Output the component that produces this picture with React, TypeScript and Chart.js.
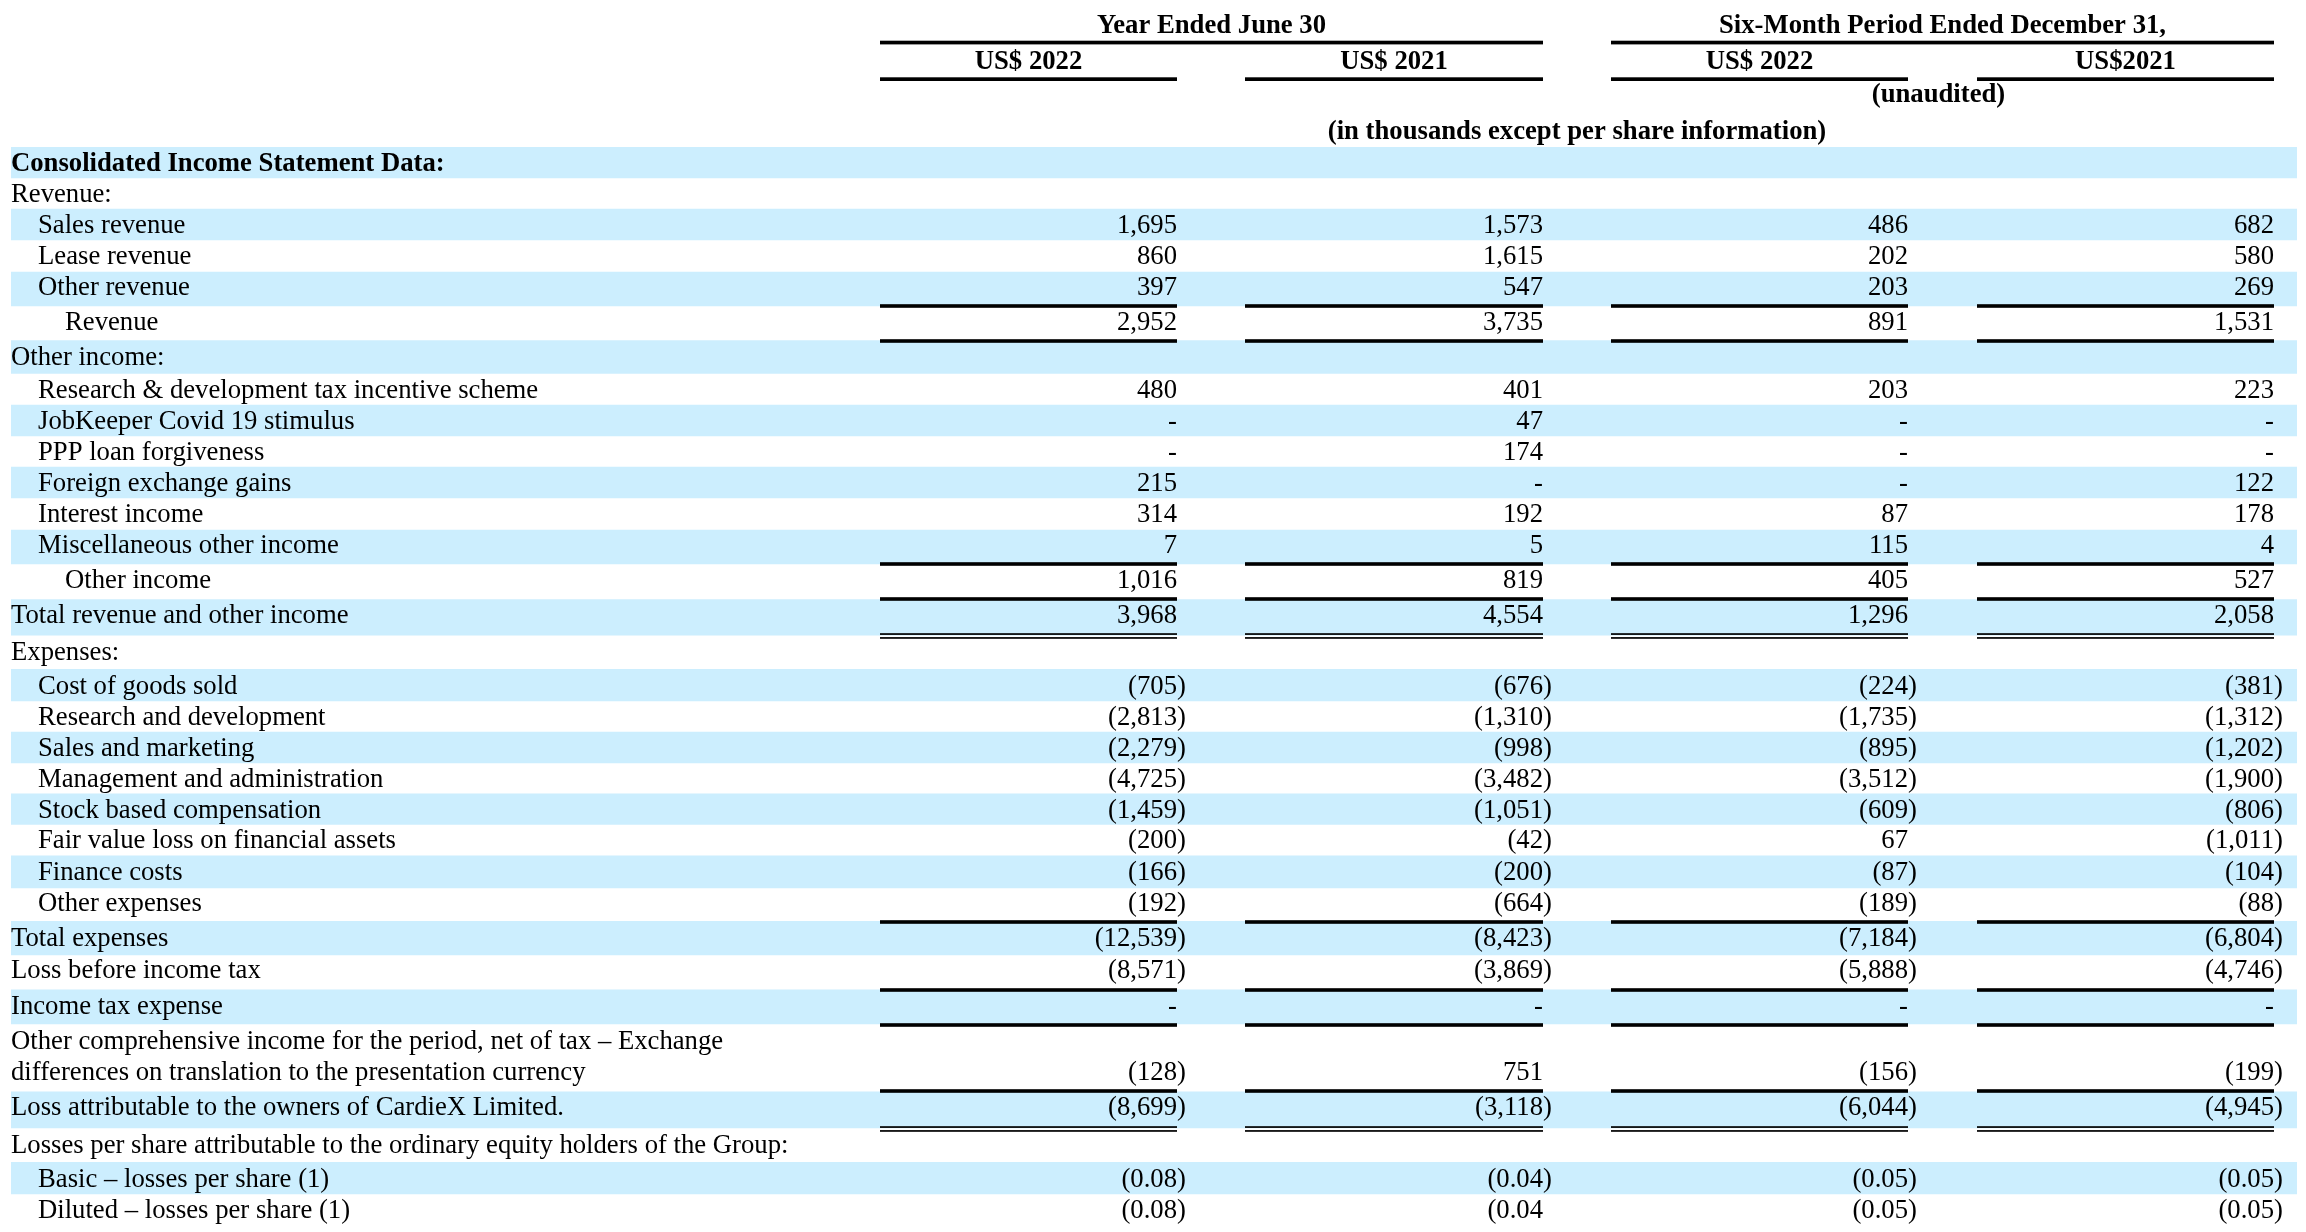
import { useEffect, useRef } from 'react';
import { Chart, registerables } from 'chart.js';

Chart.register(...registerables);

// ---------- data ----------
const GROUP_HEADERS = ['Year Ended June 30', 'Six-Month Period Ended December 31,'];
const COLUMN_HEADERS = ['US$ 2022', 'US$ 2021', 'US$ 2022', 'US$2021'];
const UNAUDITED_NOTE = '(unaudited)';
const UNITS_NOTE = '(in thousands except per share information)';

const ROW_LABELS = [
  'Consolidated Income Statement Data:',
  'Revenue:',
  'Sales revenue',
  'Lease revenue',
  'Other revenue',
  'Revenue',
  'Other income:',
  'Research & development tax incentive scheme',
  'JobKeeper Covid 19 stimulus',
  'PPP loan forgiveness',
  'Foreign exchange gains',
  'Interest income',
  'Miscellaneous other income',
  'Other income',
  'Total revenue and other income',
  'Expenses:',
  'Cost of goods sold',
  'Research and development',
  'Sales and marketing',
  'Management and administration',
  'Stock based compensation',
  'Fair value loss on financial assets',
  'Finance costs',
  'Other expenses',
  'Total expenses',
  'Loss before income tax',
  'Income tax expense',
  'Other comprehensive income for the period, net of tax – Exchange',
  'differences on translation to the presentation currency',
  'Loss attributable to the owners of CardieX Limited.',
  'Losses per share attributable to the ordinary equity holders of the Group:',
  'Basic – losses per share (1)',
  'Diluted – losses per share (1)',
];

// rows that carry figures
const ROW_HAS_VALUES = [false, false, true, true, true, true, false, true, true, true, true, true, true, true, true, false, true, true, true, true, true, true, true, true, true, true, true, false, true, true, false, true, true];

// figures in US$ thousands (null = "-"), losses per share in US$
const FY2022 = [0, 0, 1695, 860, 397, 2952, 0, 480, null, null, 215, 314, 7, 1016, 3968, 0, -705, -2813, -2279, -4725, -1459, -200, -166, -192, -12539, -8571, null, 0, -128, -8699, 0, -0.08, -0.08];
const FY2021 = [0, 0, 1573, 1615, 547, 3735, 0, 401, 47, 174, null, 192, 5, 819, 4554, 0, -676, -1310, -998, -3482, -1051, -42, -200, -664, -8423, -3869, null, 0, 751, -3118, 0, -0.04, -0.04];
const H1_2022 = [0, 0, 486, 202, 203, 891, 0, 203, null, null, null, 87, 115, 405, 1296, 0, -224, -1735, -895, -3512, -609, 67, -87, -189, -7184, -5888, null, 0, -156, -6044, 0, -0.05, -0.05];
const H1_2021 = [0, 0, 682, 580, 269, 1531, 0, 223, null, null, 122, 178, 4, 527, 2058, 0, -381, -1312, -1202, -1900, -806, -1011, -104, -88, -6804, -4746, null, 0, -199, -4945, 0, -0.05, -0.05];
const SERIES = [FY2022, FY2021, H1_2022, H1_2021];
// the source prints "(0.04" without its closing parenthesis here
const UNCLOSED_CELLS = [{ row: 32, col: 1 }];

// ---------- layout / style ----------
const W = 2306;
const H = 1232;
const STRIPE = 'rgb(204,238,254)';
const FONT = '"Liberation Serif", "Times New Roman", serif';
const FS = 26.7;
const COL_LEFT = [880, 1245, 1611, 1977];
const COL_RIGHT = [1177, 1543, 1908, 2274];
const INDENT_STEP = 27;
const TEXT_DROP = 24; // baseline below row top

// 0 = flush left, 1 = item, 2 = subtotal
const ROW_INDENT = [0, 0, 1, 1, 1, 2, 0, 1, 1, 1, 1, 1, 1, 2, 0, 0, 1, 1, 1, 1, 1, 1, 1, 1, 0, 0, 0, 0, 0, 0, 0, 1, 1];
const ROW_BOLD = ROW_LABELS.map((_, i) => i === 0);
const ROW_STRIPED = [true, false, true, false, true, false, true, false, true, false, true, false, true, false, true, false, true, false, true, false, true, false, true, false, true, false, true, false, false, true, false, true, false];
// row heights (rows carrying rules are a little taller)
const ROW_HEIGHTS = [31, 31, 31, 31, 35, 35, 33, 31, 31, 31, 31, 31, 35, 35, 37, 34, 31, 31, 31, 31, 30, 32, 31, 35, 32, 36, 35, 31, 35, 38, 34, 31, 31];
// rules drawn under a row's figures
const RULES_BELOW: Record<number, 'single' | 'double'> = {
  4: 'single', 5: 'single', 12: 'single', 13: 'single', 14: 'double',
  23: 'single', 25: 'single', 26: 'single', 28: 'single', 29: 'double',
};

const ROW_TOPS: number[] = [];
ROW_HEIGHTS.reduce((acc, h) => {
  ROW_TOPS.push(acc);
  return acc + h;
}, 0);
const TABLE_UNITS = ROW_HEIGHTS.reduce((a, b) => a + b, 0);

function formatValue(v: number | null, unclosed: boolean): string {
  if (v === null) return '-';
  const abs = Math.abs(v);
  const body = abs < 1 && abs > 0 ? abs.toFixed(2) : abs.toLocaleString('en-US');
  if (v < 0) return '(' + body + (unclosed ? '' : ')');
  return body;
}

const tablePlugin = {
  id: 'tableText',
  afterDatasetsDraw(chart: any) {
    const ctx: CanvasRenderingContext2D = chart.ctx;
    const area = chart.chartArea;
    const y = chart.scales.y;
    const n = ROW_LABELS.length;
    ctx.save();
    ctx.fillStyle = '#000';
    ctx.textBaseline = 'alphabetic';

    // ---- header ----
    ctx.font = `bold ${FS}px ${FONT}`;
    ctx.textAlign = 'center';
    const groups = [
      [COL_LEFT[0], COL_RIGHT[1]],
      [COL_LEFT[2], COL_RIGHT[3]],
    ];
    groups.forEach(([l, r], i) => {
      ctx.fillText(GROUP_HEADERS[i], (l + r) / 2, 33);
      ctx.fillRect(l, 40.7, r - l, 3.7);
    });
    COLUMN_HEADERS.forEach((t, i) => {
      const l = COL_LEFT[i];
      const r = COL_RIGHT[i];
      ctx.fillText(t, (l + r) / 2, 69);
      ctx.fillRect(l, 77.3, r - l, 3.7);
    });
    ctx.fillText(UNAUDITED_NOTE, (COL_LEFT[2] + COL_RIGHT[3]) / 2 - 4, 102);
    ctx.fillText(UNITS_NOTE, (COL_LEFT[0] + COL_RIGHT[3]) / 2, 139);

    // ---- rows ----
    for (let i = 0; i < n; i++) {
      const top = y.getPixelForValue(ROW_TOPS[i]);
      const bottom = y.getPixelForValue(ROW_TOPS[i] + ROW_HEIGHTS[i]);
      const base = top + TEXT_DROP;
      ctx.font = `${ROW_BOLD[i] ? 'bold ' : ''}${FS}px ${FONT}`;
      ctx.textAlign = 'left';
      ctx.fillText(ROW_LABELS[i], area.left + ROW_INDENT[i] * INDENT_STEP, base);

      if (ROW_HAS_VALUES[i]) {
        ctx.font = `${FS}px ${FONT}`;
        SERIES.forEach((series, c) => {
          const unclosed = UNCLOSED_CELLS.some((u) => u.row === i && u.col === c);
          const text = formatValue(series[i] as number | null, unclosed);
          const r = COL_RIGHT[c];
          if (text.endsWith(')')) {
            ctx.textAlign = 'right';
            ctx.fillText(text.slice(0, -1), r, base);
            ctx.textAlign = 'left';
            ctx.fillText(')', r, base);
          } else {
            ctx.textAlign = 'right';
            ctx.fillText(text, r, base);
          }
        });
      }

      const rule = RULES_BELOW[i];
      if (rule) {
        COL_LEFT.forEach((l, c) => {
          const w = COL_RIGHT[c] - l;
          if (rule === 'single') {
            ctx.fillRect(l, bottom - 1.8, w, 3.6);
          } else {
            ctx.fillRect(l, bottom - 2.8, w, 1.7);
            ctx.fillRect(l, bottom + 1.1, w, 1.7);
          }
        });
      }
    }
    ctx.restore();
  },
};

export default function App() {
  const ref = useRef<HTMLCanvasElement | null>(null);
  useEffect(() => {
    document.body.style.margin = '0';
    const canvas = ref.current;
    if (!canvas) return;
    const chart = new Chart(canvas, {
      type: 'bar',
      data: {
        datasets: [
          {
            data: ROW_LABELS.map((_, i) => ({ x: [0, 1], y: ROW_TOPS[i] + ROW_HEIGHTS[i] / 2 })) as any,
            backgroundColor: (c: any) => (ROW_STRIPED[c.dataIndex] ? STRIPE : 'rgba(0,0,0,0)'),
            borderWidth: 0,
            barThickness: 'flex',
            barPercentage: 1,
            categoryPercentage: 1,
          },
        ],
      },
      options: {
        indexAxis: 'y',
        responsive: false,
        animation: false,
        layout: { padding: { top: 147, bottom: 7, left: 11, right: 9 } },
        plugins: { legend: { display: false }, tooltip: { enabled: false } },
        scales: {
          x: { type: 'linear', min: 0, max: 1, display: false, offset: false },
          y: { type: 'linear', min: 0, max: TABLE_UNITS, reverse: true, display: false, offset: false, grace: 0 },
        },
      },
      plugins: [tablePlugin],
    });
    return () => chart.destroy();
  }, []);
  return (
    <div style={{ width: W, height: H, background: '#fff' }}>
      <canvas ref={ref} width={W} height={H} style={{ display: 'block', width: W, height: H }} />
    </div>
  );
}
